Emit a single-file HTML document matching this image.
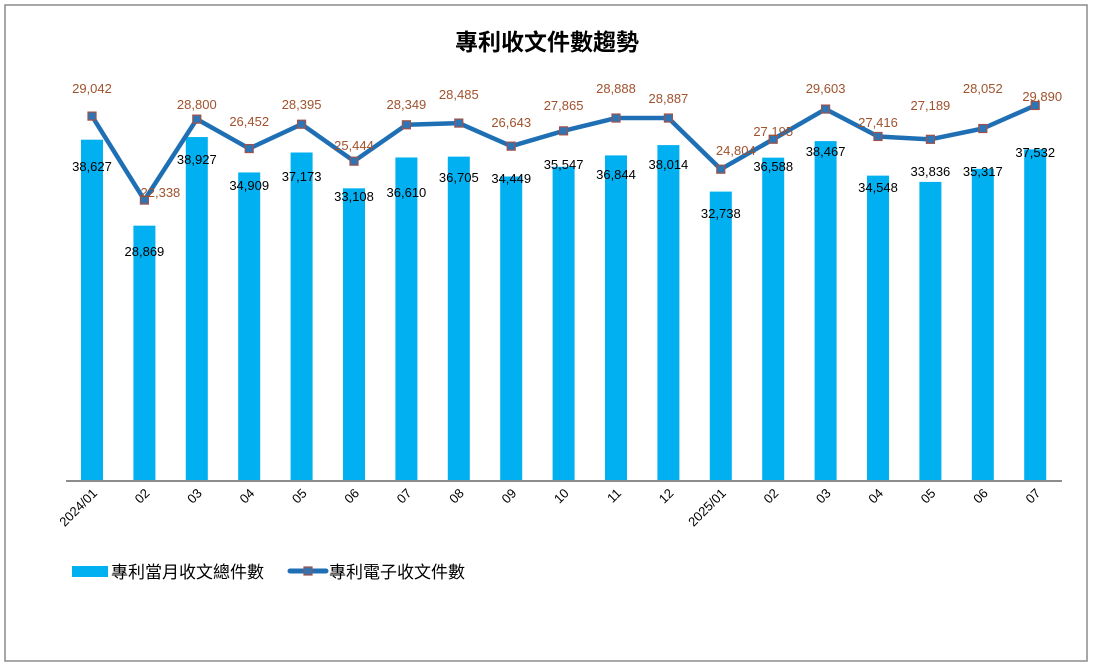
<!DOCTYPE html>
<html><head><meta charset="utf-8">
<style>
html,body{margin:0;padding:0;background:#fff;}
svg{display:block;font-family:"Liberation Sans","Noto Sans CJK TC",sans-serif;}
</style></head>
<body>
<svg id="chart" width="1094" height="668" viewBox="0 0 1094 668">
<rect x="5" y="5" width="1082" height="656" fill="#fff" stroke="#8c8c8c" stroke-width="1.5"/>
<text x="547" y="50" text-anchor="middle" font-size="23" font-weight="bold" fill="#000">專利收文件數趨勢</text>
<g id="bars"></g>
<line x1="66" y1="481" x2="1062" y2="481" stroke="#8c8c8c" stroke-width="2"/>
<g id="line"></g>
<g id="labels"></g>
<g id="xticks"></g>
<g>
<rect x="72" y="566" width="36" height="11" fill="#00b0f0"/>
<text x="111" y="578" font-size="17" fill="#000">專利當月收文總件數</text>
<line x1="290" y1="571" x2="326" y2="571" stroke="#1f6fb5" stroke-width="5" stroke-linecap="round"/>
<rect x="304" y="567" width="8" height="8" fill="#2e75b6" stroke="#a0524a" stroke-width="1.2"/>
<text x="329" y="578" font-size="17" fill="#000">專利電子收文件數</text>
</g>
</svg>
<script>
const categories=["2024/01","02","03","04","05","06","07","08","09","10","11","12","2025/01","02","03","04","05","06","07"];
const totalValues=[38627,28869,38927,34909,37173,33108,36610,36705,34449,35547,36844,38014,32738,36588,38467,34548,33836,35317,37532];
const electronicValues=[29042,22338,28800,26452,28395,25444,28349,28485,26643,27865,28888,28887,24804,27195,29603,27416,27189,28052,29890];
const barLabelY=[166,251,159,185,176,196,192,177,178,164,174,164,213,166,151,187,171,171,152];
const lineLabelY=[88,192,104,121,104,145,104,94,122,105,88,98,150,131,88,122,105,88,96];
const lineLabelDx=[0,16,0,0,0,0,0,0,0,0,0,0,15,0,0,0,0,0,7];
const NS="http://www.w3.org/2000/svg";
const baseY=480;
function xPos(i){return 92+i*52.4;}
function yBar(v){return baseY-v*0.00881;}
function yLine(v){return baseY-v*0.01253;}
function fmt(v){return v.toLocaleString("en-US");}
function mk(tag,attrs,parent){const e=document.createElementNS(NS,tag);for(const k in attrs)e.setAttribute(k,attrs[k]);parent.appendChild(e);return e;}
const gb=document.getElementById("bars"),gl=document.getElementById("line"),gt=document.getElementById("labels"),gx=document.getElementById("xticks");
totalValues.forEach((v,i)=>{
  const r=mk("rect",{x:xPos(i)-11,y:yBar(v),width:22,height:baseY-yBar(v),fill:"#00b0f0"},gb);
  
  
});
const pts=electronicValues.map((v,i)=>xPos(i)+","+yLine(v)).join(" ");
const pl=mk("polyline",{points:pts,fill:"none",stroke:"#1f6fb5","stroke-width":4.5,"stroke-linejoin":"round"},gl);


electronicValues.forEach((v,i)=>{
  const m=mk("rect",{x:xPos(i)-4,y:yLine(v)-4,width:8,height:8,fill:"#2e75b6",stroke:"#a0524a","stroke-width":1.2},gl);
  
  
  const t=mk("text",{x:xPos(i)+lineLabelDx[i],y:lineLabelY[i]+5,"text-anchor":"middle","font-size":13,fill:"#a0522d"},gt);
  t.textContent=fmt(v);
  
  
});
totalValues.forEach((v,i)=>{
  const t=mk("text",{x:xPos(i),y:barLabelY[i]+5,"text-anchor":"middle","font-size":13,fill:"#000"},gt);
  t.textContent=fmt(v);
  
  
});
categories.forEach((c,i)=>{
  const x=xPos(i)+6,y=494;
  const t=mk("text",{x:x,y:y,"text-anchor":"end","font-size":13,fill:"#000",transform:`rotate(-45 ${x} ${y})`},gx);
  t.textContent=c;
  
  
});
</script>
</body></html>
